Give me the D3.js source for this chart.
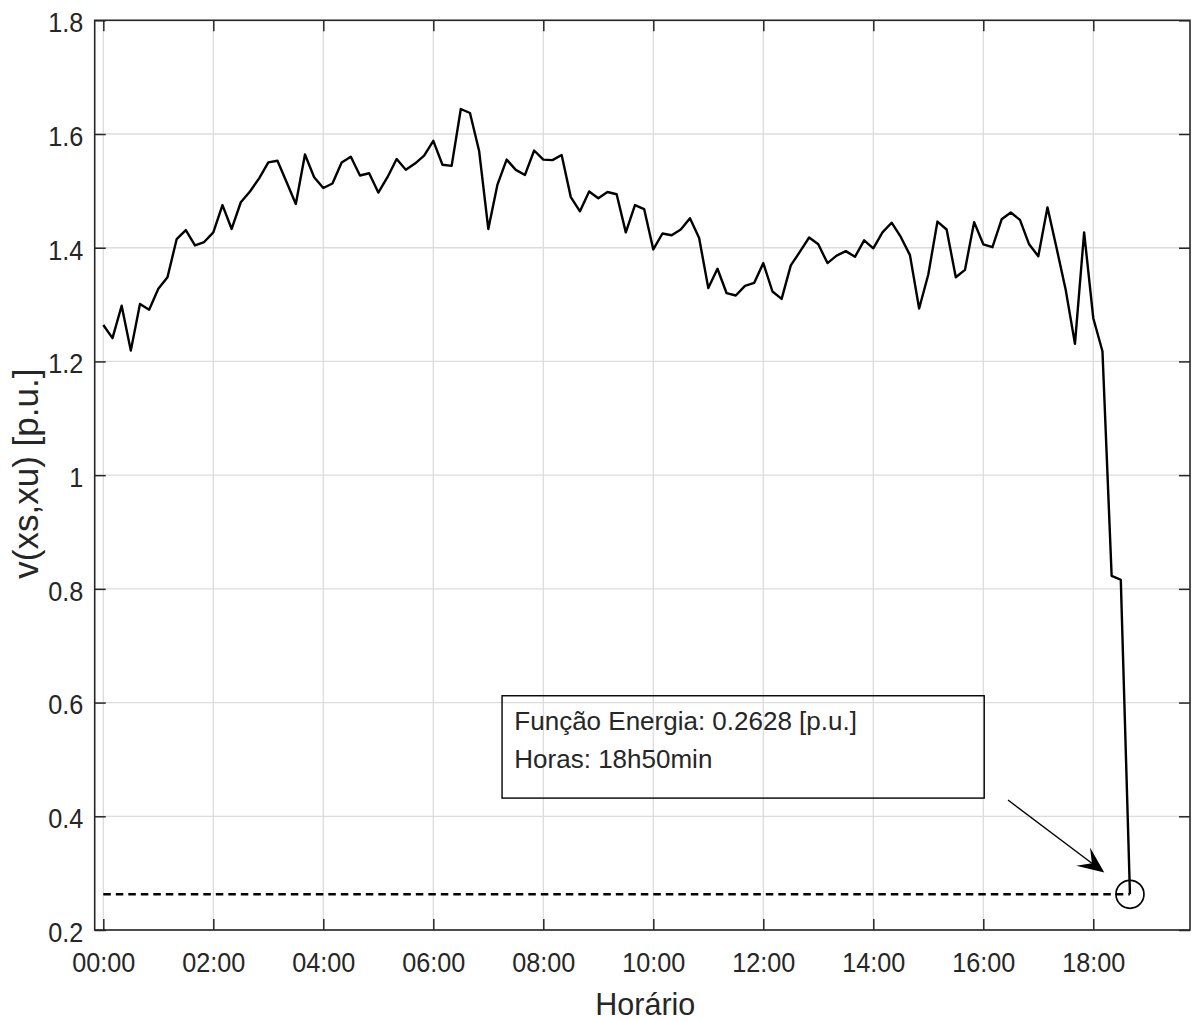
<!DOCTYPE html>
<html>
<head>
<meta charset="utf-8">
<script src="https://cdn.jsdelivr.net/npm/d3@7"></script>
<style>
  body { margin: 0; background: #fff; }
  text { font-family: "Liberation Sans", Arial, Helvetica, sans-serif; fill: #262626; }
</style>
</head>
<body>
<svg id="chart" width="1193" height="1021"></svg>
<script>
// Energy function v(xs,xu) sampled every 10 minutes from 00:00
const stepMinutes = 10;
const voltage = [
  1.264, 1.241, 1.298, 1.219, 1.301, 1.291, 1.328, 1.348, 1.415, 1.431,
  1.404, 1.410, 1.427, 1.475, 1.433, 1.480, 1.499, 1.522, 1.550, 1.553,
  1.515, 1.477, 1.564, 1.524, 1.505, 1.513, 1.550, 1.560, 1.527, 1.531,
  1.497, 1.524, 1.556, 1.537, 1.548, 1.562, 1.588, 1.546, 1.544, 1.644,
  1.637, 1.570, 1.433, 1.511, 1.555, 1.537, 1.528, 1.571, 1.555, 1.554,
  1.563, 1.489, 1.464, 1.499, 1.487, 1.498, 1.494, 1.427, 1.475, 1.468,
  1.397, 1.425, 1.422, 1.432, 1.452, 1.417, 1.329, 1.363, 1.320, 1.316,
  1.333, 1.338, 1.373, 1.323, 1.310, 1.369, 1.393, 1.418, 1.406, 1.373,
  1.386, 1.394, 1.384, 1.413, 1.399, 1.427, 1.444, 1.419, 1.387, 1.293,
  1.353, 1.446, 1.432, 1.348, 1.361, 1.445, 1.406, 1.401, 1.450, 1.462,
  1.449, 1.406, 1.385, 1.471, 1.399, 1.325, 1.231, 1.427, 1.276, 1.218,
  0.823, 0.816, 0.2628
];

const xTickMinutes = [0, 120, 240, 360, 480, 600, 720, 840, 960, 1080];
const xTickLabels = ["00:00", "02:00", "04:00", "06:00", "08:00", "10:00", "12:00", "14:00", "16:00", "18:00"];
const yTicks = [0.2, 0.4, 0.6, 0.8, 1.0, 1.2, 1.4, 1.6, 1.8];
const yTickLabels = ["0.2", "0.4", "0.6", "0.8", "1", "1.2", "1.4", "1.6", "1.8"];

const xLabel = "Horário";
const yLabel = "v(xs,xu) [p.u.]";

// Layout
const plot = { left: 94.7, right: 1190, top: 20.3, bottom: 930 };
const tickFont = 28.5, tickSqueeze = 0.885;

const svg = d3.select("#chart");
svg.append("rect").attr("width", 1193).attr("height", 1021).attr("fill", "#fff");

const x = d3.scaleLinear().domain([-9.4, 1185.5]).range([plot.left, plot.right]);
const y = d3.scaleLinear().domain([0.2, 1.8]).range([plot.bottom, plot.top]);

// Grid
const grid = svg.append("g").attr("stroke", "#dcdcdc").attr("stroke-width", 1.3);
grid.selectAll("line.v").data(xTickMinutes).join("line").attr("class", "v")
  .attr("x1", d => x(d)).attr("x2", d => x(d))
  .attr("y1", plot.top).attr("y2", plot.bottom);
grid.selectAll("line.h").data(yTicks).join("line").attr("class", "h")
  .attr("x1", plot.left).attr("x2", plot.right)
  .attr("y1", d => y(d)).attr("y2", d => y(d));

// Axes (ticks pointing inward on all four sides)
function styleAxis(g) {
  g.select(".domain").remove();
  g.selectAll(".tick line").attr("stroke", "#262626").attr("stroke-width", 1.5);
}

const gx = svg.append("g").attr("transform", `translate(0,${plot.bottom})`)
  .call(d3.axisBottom(x).tickValues(xTickMinutes).tickFormat((d, i) => xTickLabels[i])
    .tickSizeInner(-11).tickSizeOuter(0).tickPadding(21.5));
styleAxis(gx);
gx.selectAll(".tick text")
  .attr("font-size", tickFont).attr("fill", "#262626")
  .attr("transform", `scale(${tickSqueeze},1)`);

const gy = svg.append("g").attr("transform", `translate(${plot.left},0)`)
  .call(d3.axisLeft(y).tickValues(yTicks).tickFormat((d, i) => yTickLabels[i])
    .tickSizeInner(-11).tickSizeOuter(0));
styleAxis(gy);
gy.selectAll(".tick text")
  .attr("font-size", tickFont).attr("fill", "#262626")
  .attr("x", -11.4 / tickSqueeze).attr("dy", "0.4em")
  .attr("transform", `scale(${tickSqueeze},1)`);

const gTop = svg.append("g").attr("transform", `translate(0,${plot.top})`)
  .call(d3.axisTop(x).tickValues(xTickMinutes).tickFormat("").tickSizeInner(-11).tickSizeOuter(0));
styleAxis(gTop);
const gRight = svg.append("g").attr("transform", `translate(${plot.right},0)`)
  .call(d3.axisRight(y).tickValues(yTicks).tickFormat("").tickSizeInner(-11).tickSizeOuter(0));
styleAxis(gRight);

svg.append("rect")
  .attr("x", plot.left).attr("y", plot.top)
  .attr("width", plot.right - plot.left).attr("height", plot.bottom - plot.top)
  .attr("fill", "none").attr("stroke", "#262626").attr("stroke-width", 1.6);

// Axis titles
svg.append("text")
  .attr("x", (plot.left + plot.right) / 2 + 3).attr("y", 1015)
  .attr("text-anchor", "middle").attr("font-size", 30.5)
  .text(xLabel);
svg.append("text")
  .attr("transform", `translate(38,${(plot.top + plot.bottom) / 2 - 1.5}) rotate(-90)`)
  .attr("text-anchor", "middle").attr("font-size", 35)
  .text(yLabel);

// Final level reached by the energy function
const lastIndex = voltage.length - 1;
const lastTime = lastIndex * stepMinutes;
const lastValue = voltage[lastIndex];

svg.append("line")
  .attr("x1", x(0)).attr("x2", x(lastTime))
  .attr("y1", y(lastValue)).attr("y2", y(lastValue))
  .attr("stroke", "#000").attr("stroke-width", 2.5)
  .attr("stroke-dasharray", "7.5,5");

// Energy curve
const line = d3.line()
  .x((d, i) => x(i * stepMinutes))
  .y(d => y(d));
svg.append("path")
  .datum(voltage)
  .attr("d", line)
  .attr("fill", "none").attr("stroke", "#000").attr("stroke-width", 2.4)
  .attr("stroke-linejoin", "round");

// Marker on the last sample
svg.append("circle")
  .attr("cx", x(lastTime)).attr("cy", y(lastValue)).attr("r", 14)
  .attr("fill", "none").attr("stroke", "#000").attr("stroke-width", 1.7);

// Annotation box (data coordinates)
const boxMinutes = [435, 961];
const boxValues = [0.612, 0.432];
const bx0 = x(boxMinutes[0]), bx1 = x(boxMinutes[1]);
const by0 = y(boxValues[0]), by1 = y(boxValues[1]);
svg.append("rect")
  .attr("x", bx0).attr("y", by0)
  .attr("width", bx1 - bx0).attr("height", by1 - by0)
  .attr("fill", "none").attr("stroke", "#000").attr("stroke-width", 1.4);

const totalMinutes = voltage.length * stepMinutes;
const hoursText = `${Math.floor(totalMinutes / 60)}h${totalMinutes % 60}min`;
const annotationLines = [
  `Função Energia: ${lastValue.toFixed(4)} [p.u.]`,
  `Horas: ${hoursText}`
];
svg.append("g").selectAll("text").data(annotationLines).join("text")
  .attr("x", bx0 + 12.3)
  .attr("y", (d, i) => by0 + 34.3 + i * 38.3)
  .attr("font-size", 26).attr("fill", "#000")
  .text(d => d);

// Arrow pointing at the marker
const arrowFrom = [987, 0.4286];
const arrowTo = [1092, 0.301];
const ax0 = x(arrowFrom[0]), ay0 = y(arrowFrom[1]);
const ax1 = x(arrowTo[0]), ay1 = y(arrowTo[1]);
const dx = ax1 - ax0, dy = ay1 - ay0, len = Math.hypot(dx, dy);
const ux = dx / len, uy = dy / len, nx = -uy, ny = ux;
const headLen = 26.5, headHalf = 11.5, notch = 15.5;
const p = (a, b) => [ax1 - ux * a + nx * b, ay1 - uy * a + ny * b];
svg.append("line")
  .attr("x1", ax0).attr("y1", ay0)
  .attr("x2", p(notch, 0)[0]).attr("y2", p(notch, 0)[1])
  .attr("stroke", "#000").attr("stroke-width", 1.4);
svg.append("path")
  .attr("d", d3.line()([[ax1, ay1], p(headLen, headHalf), p(notch, 0), p(headLen, -headHalf)]) + "Z")
  .attr("fill", "#000");
</script>
</body>
</html>
